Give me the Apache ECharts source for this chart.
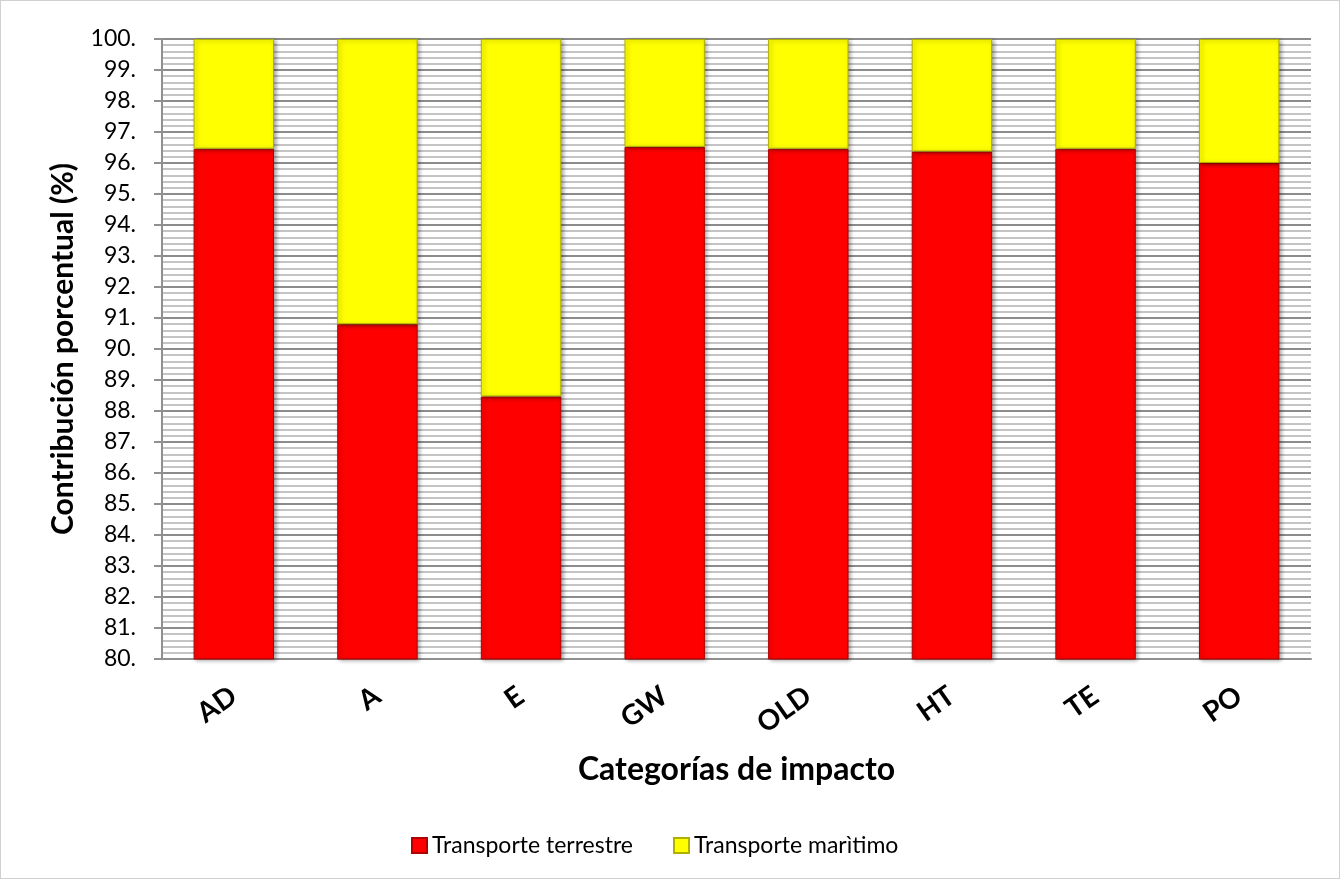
<!DOCTYPE html>
<html>
<head>
<meta charset="utf-8">
<script src="https://cdn.jsdelivr.net/npm/echarts@6/dist/echarts.min.js"></script>
<style>
  html, body { margin: 0; padding: 0; background: #fff; }
  #chart { width: 1338px; height: 877px; border: 1px solid #d0d0d0; }
</style>
</head>
<body>
<div id="chart"></div>
<script>
// categorías de impacto
const categories = ["AD", "A", "E", "GW", "OLD", "HT", "TE", "PO"]
// contribución (%) de cada transporte
const terrestre = [96.46, 90.8, 88.47, 96.52, 96.46, 96.37, 96.46, 96.0]
const maritimo = [3.54, 9.2, 11.53, 3.48, 3.54, 3.63, 3.54, 4.0]
const seriesNames = ["Transporte terrestre", "Transporte marìtimo"]
const yMin = 80, yMax = 100, yStep = 1

const font = "Lato, 'Open Sans', sans-serif"

const chart = echarts.init(document.getElementById("chart"))

// barra con borde oscuro y sombra a la derecha
function barStyle(color, edge) {
  return {
    color: color,
    borderColor: edge,
    borderWidth: 1,
    shadowColor: "rgba(0,0,0,0.35)",
    shadowBlur: 4,
    shadowOffsetX: 2,
    shadowOffsetY: 1
  }
}

chart.setOption({
  animation: false,
  textStyle: { fontFamily: font, color: "#000" },
  grid: { left: 161, right: 28, top: 38, bottom: 219 },
  legend: {
    bottom: 16,
    left: 405,
    itemWidth: 15,
    itemHeight: 15,
    itemGap: 40,
    icon: "rect",
    textStyle: { fontSize: 23, fontFamily: font, color: "#000" },
    data: seriesNames
  },
  xAxis: {
    type: "category",
    data: categories,
    name: "Categorías de impacto",
    nameLocation: "middle",
    nameGap: 95,
    nameTextStyle: { fontSize: 32, fontWeight: "bold", fontFamily: font, color: "#000" },
    axisLine: { lineStyle: { color: "#909090", width: 2 } },
    axisTick: { show: false },
    axisLabel: {
      rotate: 35,
      margin: 34,
      align: "right",
      verticalAlign: "middle",
      fontSize: 28,
      fontWeight: "bold",
      color: "#000"
    }
  },
  yAxis: {
    type: "value",
    min: yMin,
    max: yMax,
    interval: yStep,
    name: "Contribución porcentual (%)",
    nameLocation: "middle",
    nameGap: 84,
    nameTextStyle: { fontSize: 30, fontWeight: "bold", fontFamily: font, color: "#000" },
    axisLine: { show: true, lineStyle: { color: "#909090", width: 2 } },
    axisTick: { show: true, length: 8, lineStyle: { color: "#909090", width: 2 } },
    axisLabel: {
      fontSize: 23,
      color: "#000",
      margin: 26,
      formatter: v => v + "."
    },
    splitLine: { lineStyle: { color: "#8c8c8c", width: 2 } },
    minorTick: { show: false, splitNumber: 5 },
    minorSplitLine: { show: true, lineStyle: { color: "#c4c4c4", width: 2 } }
  },
  series: [
    {
      name: seriesNames[0],
      type: "bar",
      stack: "total",
      barWidth: "56%",
      data: terrestre,
      itemStyle: barStyle("#ff0000", "#b00000")
    },
    {
      name: seriesNames[1],
      type: "bar",
      stack: "total",
      barWidth: "56%",
      data: maritimo,
      itemStyle: barStyle("#ffff00", "#b0b000")
    }
  ]
})
</script>
</body>
</html>
